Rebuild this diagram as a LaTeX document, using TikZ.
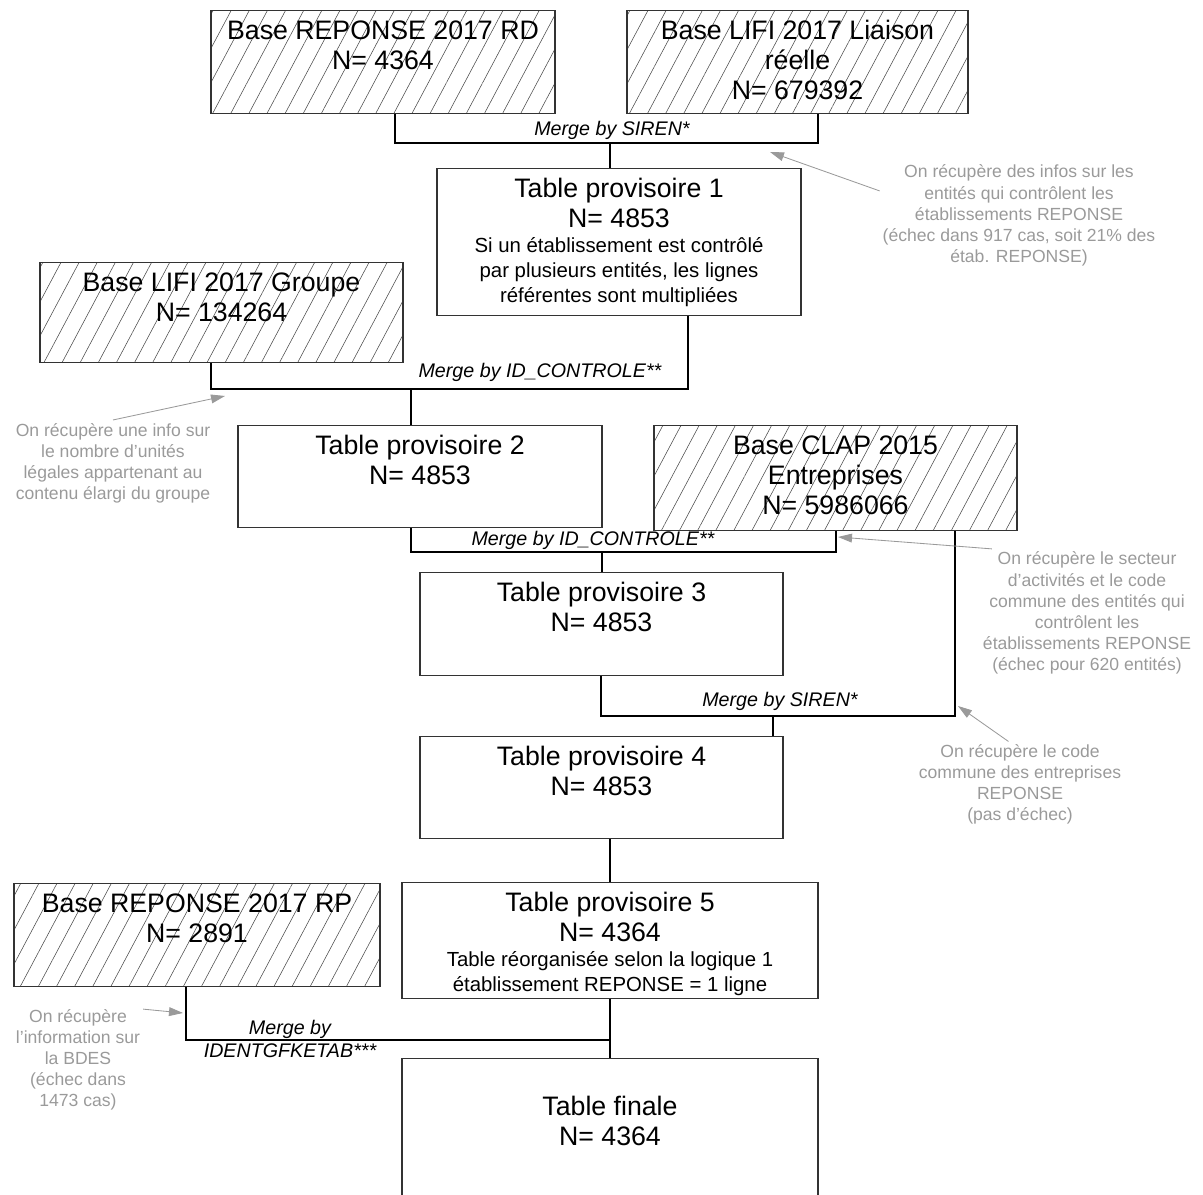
\documentclass[tikz,border=0pt]{standalone}
\usepackage{fontspec}
\setmainfont{Liberation Sans}
\usetikzlibrary{positioning, arrows.meta, patterns.meta, calc}
\definecolor{notegray}{HTML}{9A9A9A}
\definecolor{boxline}{HTML}{333333}
\newcommand{\bigtxt}{\fontsize{19}{21.3}\selectfont}
\newcommand{\smalltxt}{\fontsize{14.5}{17.8}\selectfont}
\tikzset{
  tabbox/.style   = {rectangle, draw=boxline, line width=0.9pt, anchor=north, align=flush center,
                     inner xsep=0pt, inner ysep=0pt, text width=9.1cm, text height=0.73cm,
                     text depth=1.845cm, font=\bigtxt},
  basebox/.style  = {tabbox, pattern={Lines[angle=62, distance=0.4cm, line width=0.4pt]},
                     pattern color=black!70},
  mergelbl/.style = {font=\fontsize{14}{16}\selectfont\itshape, inner sep=1pt, align=center},
  note/.style     = {font=\fontsize{12.5}{15}\selectfont, text=notegray, align=center, inner sep=2pt},
  link/.style     = {line width=0.8pt, draw=black},
  hint/.style     = {line width=0.6pt, draw=notegray, -{Triangle[length=3.5mm, width=2.2mm]}},
}

\begin{document}
\begin{tikzpicture}

\useasboundingbox (0,0) rectangle (30.075,29.875);
\clip (0,0) rectangle (30.075,29.875);

% =============== SOURCE BASES ===============
\node (rd)   [basebox, text width=8.6cm]   at (9.575,29.625)  {Base REPONSE 2017 RD\\N= 4364};
\node (lr)   [basebox, text width=8.525cm] at (19.9375,29.625) {Base LIFI 2017 Liaison\\réelle\\N= 679392};
\node (lg)   [basebox, text width=9.075cm, text depth=1.77cm]  at (5.5375,23.325) {Base LIFI 2017 Groupe\\N= 134264};
\node (clap) [basebox, text width=9.075cm, text depth=1.895cm] at (20.8875,19.25) {Base CLAP 2015\\Entreprises\\N= 5986066};
\node (rp)   [basebox, text width=9.15cm]  at (4.925,7.8)     {Base REPONSE 2017 RP\\N= 2891};

% =============== INTERMEDIATE TABLES ===============
\node (t1)  [tabbox, text depth=2.945cm] at (15.475,25.675) {Table provisoire 1\\N= 4853\\
  \smalltxt Si un établissement est contrôlé\\par plusieurs entités, les lignes\\référentes sont multipliées\par};
\node (t2)  [tabbox, text depth=1.82cm] at (10.5,19.25)  {Table provisoire 2\\N= 4853};
\node (t3)  [tabbox, text width=9.075cm] at (15.0375,15.575) {Table provisoire 3\\N= 4853};
\node (t4)  [tabbox, text width=9.075cm, text depth=1.82cm] at (15.0375,11.475) {Table provisoire 4\\N= 4853};
\node (t5)  [tabbox, text width=10.4cm, text depth=2.17cm] at (15.25,7.825) {Table provisoire 5\\N= 4364\\
  \smalltxt Table réorganisée selon la logique 1\\établissement REPONSE = 1 ligne\par};
\node (fin) [tabbox, text width=10.4cm, text height=1.43cm, text depth=4cm] at (15.25,3.425) {Table finale\\N= 4364};

% =============== MERGES ===============
% merge 1
\coordinate (m1l) at (9.875,26.3);
\coordinate (m1r) at (20.45,26.3);
\coordinate (m1)  at (15.25,26.3);
\draw[link] (rd.south -| m1l) -- (m1l) -- (m1r) -- (lr.south -| m1r);
\draw[link] (m1) -- (t1.north -| m1);
\node (ml1) [mergelbl] at (15.3,26.625) {Merge by SIREN*};

% merge 2
\coordinate (m2l) at (5.275,20.15);
\coordinate (m2r) at (17.2,20.15);
\coordinate (m2)  at (10.275,20.15);
\draw[link] (lg.south -| m2l) -- (m2l) -- (m2r) -- (t1.south -| m2r);
\draw[link] (m2) -- (t2.north -| m2);
\node (ml2) [mergelbl] at (13.5,20.575) {Merge by ID\_CONTROLE**};

% merge 3
\coordinate (m3l) at (10.275,16.075);
\coordinate (m3r) at (20.9,16.075);
\coordinate (m3)  at (15.05,16.075);
\draw[link] (t2.south -| m3l) -- (m3l) -- (m3r) -- (clap.south -| m3r);
\draw[link] (m3) -- (t3.north -| m3);
\node (ml3) [mergelbl] at (14.825,16.375) {Merge by ID\_CONTROLE**};

% merge 4
\coordinate (m4l) at (15.025,11.975);
\coordinate (m4r) at (23.875,11.975);
\coordinate (m4)  at (19.325,11.975);
\draw[link] (t3.south -| m4l) -- (m4l) -- (m4r) -- (clap.south -| m4r);
\draw[link] (m4) -- (t4.north -| m4);
\node (ml4) [mergelbl] at (19.5,12.35) {Merge by SIREN*};

\draw[link] (t4.south -| t5.north) -- (t5.north);

% merge 5
\coordinate (m5l) at (4.65,3.875);
\draw[link] (rp.south -| m5l) -- (m5l) -- (m5l -| t5.south);
\draw[link] (t5.south) -- (fin.north);
\node (ml5) [mergelbl] at (7.25,3.9) {Merge by\\IDENTGFKETAB***};

% =============== NOTES ===============
\node (note1) [note] at (25.475,24.4875) {On récupère des infos sur les\\entités qui contrôlent les\\établissements REPONSE\\(échec dans 917 cas, soit 21\% des\\étab. REPONSE)};
\node (note2) [note] at (2.825,18.3) {On récupère une info sur\\le nombre d'unités\\légales appartenant au\\contenu élargi du groupe};
\node (note3) [note] at (27.175,14.55) {On récupère le secteur\\d'activités et le code\\commune des entités qui\\contrôlent les\\établissements REPONSE\\(échec pour 620 entités)};
\node (note4) [note] at (25.5,10.2625) {On récupère le code\\commune des entreprises\\REPONSE\\(pas d'échec)};
\node (note5) [note] at (1.95,3.375) {On récupère\\l'information sur\\la BDES\\(échec dans\\1473 cas)};

\coordinate (h1) at (19.25,26.075);
\coordinate (h2) at (5.625,19.975);
\coordinate (h3) at (20.95,16.45);
\coordinate (h4) at (23.95,12.225);
\coordinate (h5) at (4.575,4.55);
\draw[hint] (note1.170) -- (h1);
\draw[hint] (note2.north) -- (h2);
\draw[hint] (note3.146) -- (h3);
\draw[hint] (note4.105) -- (h4);
\draw[hint] (note5.38) -- (h5);

\end{tikzpicture}
\end{document}
